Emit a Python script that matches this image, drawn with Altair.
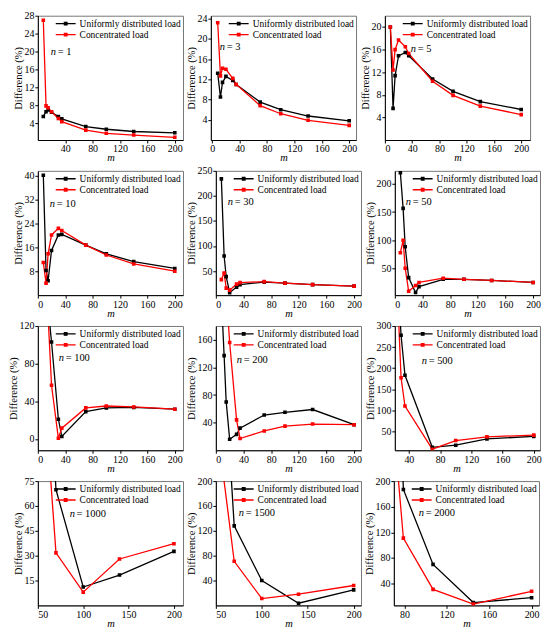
import altair as alt
import pandas as pd

FONT = "Liberation Serif"
SERIES = ["Uniformly distributed load", "Concentrated load"]
COLORS = ["#000000", "#ff0000"]

# ---- data (m, Difference %) ----
# n = 1
m_u_1 = [8, 12, 15, 20, 30, 35, 70, 100, 140, 200]
udl_1 = [5.55, 6.6, 7.0, 6.5, 5.55, 5.0, 3.3, 2.7, 2.2, 1.9]
m_c_1 = [8, 12, 15, 20, 30, 35, 70, 100, 140, 200]
cl_1 = [27.0, 7.9, 7.5, 6.6, 5.1, 4.4, 2.5, 1.8, 1.4, 0.9]
# n = 3
m_u_3 = [8, 12, 15, 20, 30, 35, 70, 100, 140, 200]
udl_3 = [13.2, 8.5, 11.4, 12.6, 11.8, 11.0, 7.5, 6.0, 4.75, 3.8]
m_c_3 = [8, 12, 15, 20, 30, 35, 70, 100, 140, 200]
cl_3 = [23.2, 12.7, 14.2, 14.0, 12.2, 11.0, 6.8, 5.2, 3.9, 2.9]
# n = 5
m_u_5 = [8, 12, 15, 20, 30, 35, 70, 100, 140, 200]
udl_5 = [20.0, 5.6, 11.4, 14.9, 15.5, 14.9, 10.8, 8.6, 6.8, 5.4]
m_c_5 = [8, 12, 15, 20, 30, 35, 70, 100, 140, 200]
cl_5 = [20.0, 12.4, 16.0, 17.7, 16.5, 15.3, 10.4, 7.9, 6.0, 4.5]
# n = 10
m_u_10 = [8, 12, 15, 20, 30, 35, 70, 100, 140, 200]
udl_10 = [40.0, 8.2, 4.8, 14.9, 20.1, 20.3, 16.7, 13.8, 11.2, 8.9]
m_c_10 = [8, 12, 15, 20, 30, 35, 70, 100, 140, 200]
cl_10 = [10.9, 4.0, 13.8, 20.1, 22.3, 21.6, 16.7, 13.4, 10.4, 8.0]
# n = 30
m_u_30 = [8, 12, 15, 20, 30, 35, 70, 100, 140, 200]
udl_30 = [234, 80, 39, 7, 18, 23, 28, 26, 23, 20]
m_c_30 = [8, 12, 15, 20, 30, 35, 70, 100, 140, 200]
cl_30 = [33, 46, 16, 12, 24, 27, 29, 26, 23, 20]
# n = 50
m_u_50 = [8, 12, 15, 20, 30, 35, 70, 100, 140, 200]
udl_50 = [219.5, 156.5, 88.5, 34, 7.6, 18, 31, 31, 29, 25.5]
m_c_50 = [8, 12, 15, 20, 30, 35, 70, 100, 140, 200]
cl_50 = [78, 100, 50.5, 10, 20, 25.5, 33, 31, 29, 25.5]
# n = 100
m_u_100 = [15, 20, 30, 35, 70, 100, 140, 200]
udl_100 = [140, 103, 21, 2.6, 29, 33, 33.5, 31.6]
m_c_100 = [15, 20, 30, 35, 70, 100, 140, 200]
cl_100 = [130, 57, 0.7, 11.5, 33, 35, 34, 31.6]
# n = 200
m_u_200 = [8, 12, 15, 20, 30, 35, 70, 100, 140, 200]
udl_200 = [223, 137, 70, 16, 23, 32, 51, 55, 59, 37]
m_c_200 = [15, 20, 30, 35, 70, 100, 140, 200]
cl_200 = [231, 156, 44, 17, 28, 35, 38, 37]
# n = 500
m_u_500 = [20, 30, 35, 70, 100, 140, 200]
udl_500 = [590, 278, 183, 12, 17, 32, 38]
m_c_500 = [20, 30, 35, 70, 100, 140, 200]
cl_500 = [617, 177, 110, 7.5, 28, 37, 41]
# n = 1000
m_u_1000 = [35, 70, 100, 140, 200]
udl_1000 = [400, 69.8, 11.1, 18.3, 32.6]
m_c_1000 = [35, 70, 100, 140, 200]
cl_1000 = [297, 31.7, 8, 28, 37.2]
# n = 1500
m_u_1500 = [35, 70, 100, 140, 200]
udl_1500 = [968, 128, 40, 3.5, 25]
m_c_1500 = [35, 70, 100, 140, 200]
cl_1500 = [481, 71, 11, 18, 32]
# n = 2000
m_u_2000 = [40, 79, 107, 145, 200]
udl_2000 = [2000, 187, 70, 10.4, 18]
m_c_2000 = [40, 79, 107, 145, 200]
cl_2000 = [864, 111, 31, 8, 28]

# ---- tick labels / axis ranges ----
xt_a = [0, 40, 80, 120, 160, 200]
xt_1 = [40, 80, 120, 160, 200]
xt_500 = [40, 80, 120, 160, 200]
xt_big = [50, 100, 150, 200]
xt_2000 = [80, 120, 160, 200]

PANELS = [
    ("1", m_u_1, udl_1, m_c_1, cl_1, [0, 212], xt_1, [0.3, 28], [4, 8, 12, 16, 20, 24, 28], (13, 37), None),
    ("3", m_u_3, udl_3, m_c_3, cl_3, [-2, 210], xt_a, [0, 24.6], [4, 8, 12, 16, 20, 24], (9, 31), None),
    ("5", m_u_5, udl_5, m_c_5, cl_5, [0, 213], xt_a, [0, 22], [4, 8, 12, 16, 20], (26, 33), None),
    ("10", m_u_10, udl_10, m_c_10, cl_10, [0, 212], xt_a, [0, 41.5], [8, 16, 24, 32, 40], (12, 33), None),
    ("30", m_u_30, udl_30, m_c_30, cl_30, [0, 210], xt_a, [2, 250], [50, 100, 150, 200, 250], (12, 31), None),
    ("50", m_u_50, udl_50, m_c_50, cl_50, [0, 210], xt_a, [3, 223], [50, 100, 150, 200], (11, 31), None),
    ("100", m_u_100, udl_100, m_c_100, cl_100, [0, 212], xt_a, [-12, 120], [0, 40, 80, 120], (21, 32), None),
    ("200", m_u_200, udl_200, m_c_200, cl_200, [0, 210], xt_a, [0, 180], [40, 80, 120, 160], (21, 34), None),
    ("500", m_u_500, udl_500, m_c_500, cl_500, [22, 208], xt_500, [5, 300], [50, 100, 150, 200, 250, 300], (27, 35), 62),
    ("1000", m_u_1000, udl_1000, m_c_1000, cl_1000, [50, 210], xt_big, [0, 75], [15, 30, 45, 60, 75], (32, 33), None),
    ("1500", m_u_1500, udl_1500, m_c_1500, cl_1500, [50, 208], xt_big, [0, 200], [40, 80, 120, 160, 200], (23, 32), None),
    ("2000", m_u_2000, udl_2000, m_c_2000, cl_2000, [70, 207], xt_2000, [6, 200], [40, 80, 120, 160, 200], (25, 32), None),
]

W, H = 146, 125
SYMBOL = "M-3,0L1,0M-1.25,-0.25L-0.75,-0.25L-0.75,0.25L-1.25,0.25Z"


def make_panel(n, m_u, v_u, m_c, v_c, xdom, xticks, ydom, yticks, lab, title_x):
    df = pd.DataFrame({
        "m": list(m_u) + list(m_c),
        "d": list(v_u) + list(v_c),
        "s": [SERIES[0]] * len(m_u) + [SERIES[1]] * len(m_c),
    })
    xaxis_kw = dict(values=xticks, title="m")
    if title_x is not None:
        xaxis_kw["titleX"] = title_x
    lines = alt.Chart(df).mark_line(
        clip=True, strokeWidth=1.3,
        point=alt.OverlayMarkDef(shape="square", filled=True, size=13, clip=True),
    ).encode(
        x=alt.X("m:Q", scale=alt.Scale(domain=xdom, nice=False, zero=False),
                axis=alt.Axis(**xaxis_kw)),
        y=alt.Y("d:Q", scale=alt.Scale(domain=ydom, nice=False, zero=False),
                axis=alt.Axis(values=yticks, title="Difference (%)")),
        color=alt.Color("s:N", scale=alt.Scale(domain=SERIES, range=COLORS),
                        legend=alt.Legend(title=None, orient="top-right", offset=2,
                                          symbolType=SYMBOL, symbolSize=100,
                                          symbolStrokeWidth=1.4, labelFont=FONT,
                                          labelFontSize=9.5, labelColor="black",
                                          rowPadding=0, padding=0, labelLimit=0,
                                          labelOffset=3)),
    )
    t1 = alt.Chart(pd.DataFrame({"t": ["n"]})).mark_text(
        font=FONT, fontSize=10.5, fontStyle="italic", align="left", baseline="middle", color="black"
    ).encode(text="t:N", x=alt.value(lab[0]), y=alt.value(lab[1]))
    t2 = alt.Chart(pd.DataFrame({"t": ["= " + n]})).mark_text(
        font=FONT, fontSize=10.5, align="left", baseline="middle", color="black"
    ).encode(text="t:N", x=alt.value(lab[0] + 7), y=alt.value(lab[1]))
    return alt.layer(lines, t1, t2).properties(width=W, height=H)


panels = [make_panel(*p) for p in PANELS]
rows = []
for r in range(4):
    rows.append(
        alt.hconcat(*panels[3 * r:3 * r + 3], spacing=2)
        .resolve_scale(color="independent")
        .resolve_legend(color="independent")
    )

chart = (
    alt.vconcat(*rows, spacing=1)
    .resolve_scale(color="independent")
    .resolve_legend(color="independent")
    .properties(padding={"left": 0, "top": 0, "right": 0, "bottom": 0})
    .configure_axis(labelFont=FONT, titleFont=FONT, labelFontSize=10, titleFontSize=10.5,
                    titleFontWeight="normal", grid=False, domainColor="black",
                    tickColor="black", tickSize=3, labelColor="black", titleColor="black",
                    labelPadding=1, titlePadding=0)
    .configure_axisX(titleFontStyle="italic", titlePadding=-1)
    .configure_view(stroke="#777")
)

chart.save("out.html", embed_options={"renderer": "svg", "actions": False})
